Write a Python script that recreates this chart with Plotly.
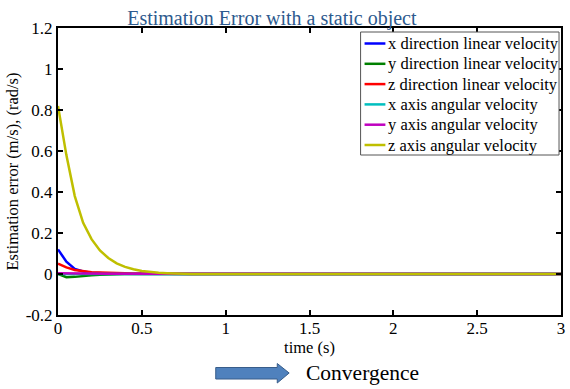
import plotly.graph_objects as go

# sampled time points (s)
t = [0, 0.05, 0.1, 0.15, 0.2, 0.25, 0.3, 0.35, 0.4, 0.45, 0.5, 0.55, 0.6, 0.65, 0.7, 0.75, 0.8, 3.0]

x_lin = [0.12, 0.06, 0.025, 0.012, 0.006, 0.003, 0.002, 0.001, 0.0005, 0, 0, 0, 0, 0, 0, 0, 0, 0]
y_lin = [0.0, -0.016, -0.014, -0.009, -0.006, -0.004, -0.002, -0.001, -0.0005, 0, 0, 0, 0, 0, 0, 0, 0, 0]
z_lin = [0.05, 0.032, 0.02, 0.013, 0.009, 0.007, 0.005, 0.004, 0.003, 0.0025, 0.002, 0.0015, 0.001, 0.0008, 0.0005, 0.0003, 0.0, 0.0]
x_ang = [0.0, 0.0, 0.0, 0.0, 0.0, 0.0, 0.0, 0.0, 0.0, 0.0, 0.0, 0.0, 0.0, 0.0, 0.0, 0.0, 0.0, 0.0]
y_ang = [0.004, 0.003, 0.003, 0.002, 0.002, 0.002, 0.001, 0.001, 0.001, 0.001, 0.0005, 0.0005, 0, 0, 0, 0, 0, 0]
z_ang = [0.82, 0.58, 0.38, 0.25, 0.17, 0.115, 0.078, 0.052, 0.035, 0.023, 0.015, 0.01, 0.006, 0.004, 0.002, 0.001, 0.0, 0.0]

names = ["x direction linear velocity", "y direction linear velocity", "z direction linear velocity",
         "x axis angular velocity", "y axis angular velocity", "z axis angular velocity"]
series = [x_lin, y_lin, z_lin, x_ang, y_ang, z_ang]
colors = ["#0000ff", "#008000", "#ff0000", "#00bfbf", "#bf00bf", "#bfbf00"]

x_ticks = [0, 0.5, 1, 1.5, 2, 2.5, 3]
y_ticks = [-0.2, 0, 0.2, 0.4, 0.6, 0.8, 1, 1.2]

font = "Liberation Serif"

fig = go.Figure()
for name, vals, col in zip(names, series, colors):
    fig.add_trace(go.Scatter(x=t, y=vals, mode="lines", name=name, showlegend=False,
                             line=dict(color=col, width=2.5)))

axis_common = dict(showgrid=False, zeroline=False, showline=True, linecolor="black",
                   linewidth=2, mirror="allticks", ticks="inside", ticklen=5,
                   tickcolor="black", tickwidth=1.5,
                   tickfont=dict(family=font, size=17, color="black"))

fig.update_layout(
    width=570, height=389,
    margin=dict(l=58, r=5, t=28, b=74),
    paper_bgcolor="white", plot_bgcolor="white",
    font=dict(family=font, size=16, color="black"),
    title=dict(text="Estimation Error with a static object", x=0.477, xanchor="center",
               y=0.955, yanchor="middle",
               font=dict(family=font, size=20, color="#2d5a8e")),
    xaxis=dict(range=[0, 3], tickvals=x_ticks, ticktext=[str(v) for v in x_ticks],
               ticklabelstandoff=-3,
               title=dict(text="time (s)", font=dict(family=font, size=16.5, color="black"), standoff=0),
               **axis_common),
    yaxis=dict(range=[-0.2, 1.2], tickvals=y_ticks, ticktext=[("%g" % v) for v in y_ticks],
               title=dict(text="Estimation error (m/s), (rad/s)", font=dict(family=font, size=16.5, color="black"), standoff=3),
               **axis_common),
    showlegend=False,
)

# pixel -> paper helpers (plot area: x 58..565, y 28..315)
def px(xp):
    return (xp - 58) / 507.0

def py(yp):
    return (315 - yp) / 287.0

# legend box drawn from the series names and colours
fig.add_shape(type="rect", xref="paper", yref="paper",
              x0=px(363), x1=px(563), y0=py(155), y1=py(32),
              fillcolor="white", line=dict(color="#555", width=1), layer="above")
for i, (name, col) in enumerate(zip(names, colors)):
    yrow = 43.5 + i * 20.3
    fig.add_shape(type="line", xref="paper", yref="paper",
                  x0=px(367), x1=px(388), y0=py(yrow), y1=py(yrow),
                  line=dict(color=col, width=2.5), layer="above")
    fig.add_annotation(text=name, xref="paper", yref="paper", x=px(389), y=py(yrow),
                       xanchor="left", yanchor="middle", showarrow=False,
                       font=dict(family=font, size=16.5, color="black"))

# convergence arrow
path = ("M {x0},{y0} L {x1},{y0} L {x1},{yh0} L {x2},{ym} L {x1},{yh1} L {x1},{y1} L {x0},{y1} Z"
        .format(x0=px(217), x1=px(279), x2=px(291),
                y0=py(367.5), y1=py(379), yh0=py(363.5), yh1=py(383), ym=py(373)))
fig.add_shape(type="path", path=path, xref="paper", yref="paper",
              fillcolor="#4f81bd", line=dict(color="#385d8a", width=1))
fig.add_annotation(text="Convergence", xref="paper", yref="paper",
                   x=px(306), y=py(373), xanchor="left", yanchor="middle", showarrow=False,
                   font=dict(family=font, size=21.5, color="black"))

fig.write_html("out.html")
